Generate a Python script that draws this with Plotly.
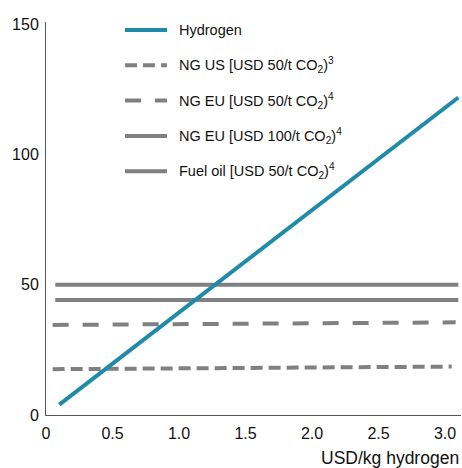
import plotly.graph_objects as go

# x in USD/kg hydrogen, y values
hydrogen_x = [0.1, 3.1]
hydrogen_y = [4.0, 122.0]

ng_us_x = [0.05, 3.05]
ng_us_y = [17.6, 18.6]

ng_eu_50_x = [0.05, 3.08]
ng_eu_50_y = [34.6, 35.6]

ng_eu_100_x = [0.07, 3.1]
ng_eu_100_y = [50.0, 50.0]

fuel_oil_x = [0.07, 3.1]
fuel_oil_y = [44.2, 44.2]

y_ticks = [0, 50, 100, 150]
x_ticks = [0, 0.5, 1.0, 1.5, 2.0, 2.5, 3.0]
x_tick_labels = ["0", "0.5", "1.0", "1.5", "2.0", "2.5", "3.0"]

TEAL = "#1f8ba8"
GRAY = "#808080"
FONT = "Liberation Sans, Arial, sans-serif"

series = [
    ("Hydrogen", hydrogen_x, hydrogen_y, TEAL, "solid"),
    ("NG US [USD 50/t CO<sub>2</sub>)<sup>3</sup>", ng_us_x, ng_us_y, GRAY, "12px,6px"),
    ("NG EU [USD 50/t CO<sub>2</sub>)<sup>4</sup>", ng_eu_50_x, ng_eu_50_y, GRAY, "16px,14px"),
    ("NG EU [USD 100/t CO<sub>2</sub>)<sup>4</sup>", ng_eu_100_x, ng_eu_100_y, GRAY, "solid"),
    ("Fuel oil [USD 50/t CO<sub>2</sub>)<sup>4</sup>", fuel_oil_x, fuel_oil_y, GRAY, "solid"),
]

W, H = 462, 468
M_L, M_R, M_T, M_B = 46, 1, 22, 53
plot_w = W - M_L - M_R
plot_h = H - M_T - M_B

fig = go.Figure()

# gray lines first so the hydrogen line sits on top
for name, xs, ys, color, dash in series[1:] + series[:1]:
    fig.add_trace(
        go.Scatter(
            x=xs,
            y=ys,
            mode="lines",
            name=name,
            line=dict(color=color, width=4, dash=dash),
            showlegend=False,
        )
    )

# hand-placed legend (big row spacing)
row_y0, row_step = 30, 35.3
for i, (name, xs, ys, color, dash) in enumerate(series):
    py = row_y0 + i * row_step
    yp = (H - M_B - py) / plot_h
    fig.add_shape(
        type="line",
        xref="paper",
        yref="paper",
        x0=(125 - M_L) / plot_w,
        x1=(167 - M_L) / plot_w,
        y0=yp,
        y1=yp,
        line=dict(color=color, width=4, dash=dash),
    )
    fig.add_annotation(
        text=name,
        xref="paper",
        yref="paper",
        x=(177 - M_L) / plot_w,
        y=yp,
        xanchor="left",
        yanchor="middle",
        showarrow=False,
        font=dict(size=14.5, color="#111111", family=FONT),
    )

fig.add_annotation(
    text="USD/kg hydrogen",
    xref="paper",
    yref="paper",
    x=1.0,
    y=-(458 - (H - M_B)) / plot_h,
    xanchor="right",
    yanchor="middle",
    showarrow=False,
    font=dict(size=17.5, color="#111111", family=FONT),
)

fig.update_layout(
    width=W,
    height=H,
    margin=dict(l=M_L, r=M_R, t=M_T, b=M_B),
    paper_bgcolor="white",
    plot_bgcolor="white",
    font=dict(family=FONT, size=16, color="#111111"),
    xaxis=dict(
        range=[0, 3.12],
        tickvals=x_ticks,
        ticktext=x_tick_labels,
        showgrid=False,
        zeroline=False,
        showline=True,
        linecolor="#555555",
        linewidth=1,
        ticks="",
        ticklabelstandoff=4,
    ),
    yaxis=dict(
        range=[0, 151],
        tickvals=y_ticks,
        showgrid=False,
        zeroline=False,
        showline=True,
        linecolor="#555555",
        linewidth=1,
        ticks="",
        ticklabelstandoff=3,
    ),
)

fig.write_html(
    "out.html",
    config={"displayModeBar": False},
    post_script="document.body.style.margin='0';",
)
